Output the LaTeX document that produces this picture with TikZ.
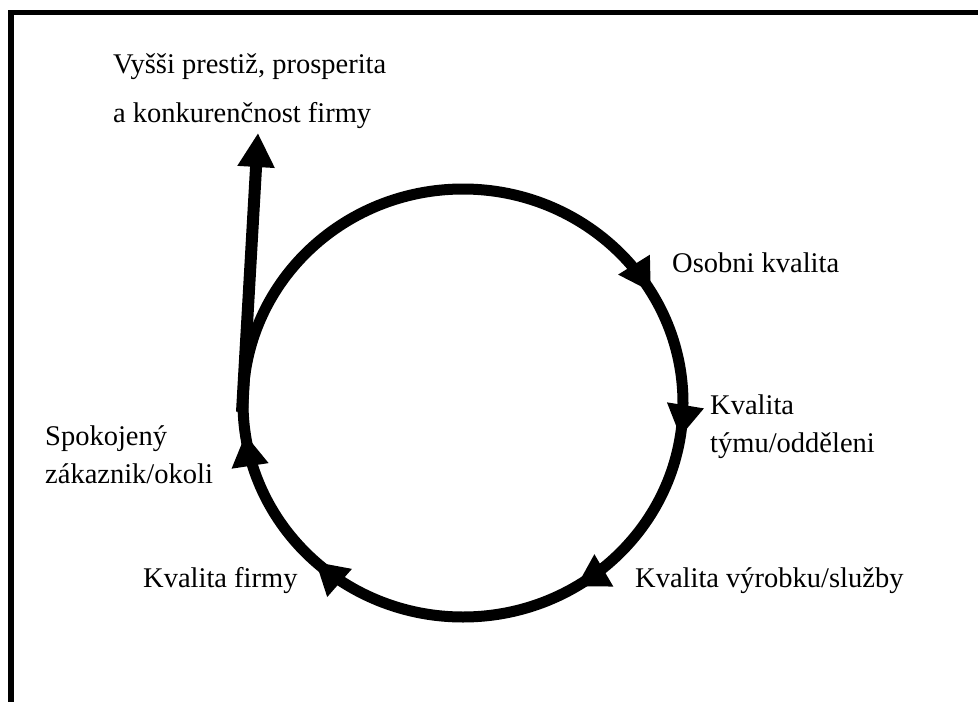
\documentclass[tikz,border=0pt]{standalone}
\usepackage{fontspec}
\setmainfont{Liberation Serif}
\usetikzlibrary{arrows.meta,decorations.markings}

\begin{document}
\begin{tikzpicture}[x=1pt,y=-1pt,
  lbl/.style={anchor=base west,inner sep=0pt,align=left,
    font=\fontsize{28.5}{37.5}\selectfont},
  cyc/.style={line width=11pt},
  tri/.tip={Triangle[width=35pt,length=32pt]},
  frame/.style={line width=5.5pt,line join=miter}]
\useasboundingbox (0,0) rectangle (978,702);
\fill[white] (0,0) rectangle (978,702);

% open frame (left and top edges)
\draw[frame] (11,702) -- (11,12.5) -- (978,12.5);

% the quality cycle
\coordinate (c) at (463,403);
\draw[cyc, postaction={decorate}, decoration={markings,
    mark=at position 0.025 with {\arrow{tri}},
    mark=at position 0.163 with {\arrow{tri}},
    mark=at position 0.368 with {\arrow{tri}},
    mark=at position 0.477 with {\arrow{tri}},
    mark=at position 0.914 with {\arrow{tri}}}]
  (c) ++(220,0) arc[start angle=0,end angle=360,x radius=220,y radius=214];

% exit arrow towards the firm's prestige
\coordinate (junc) at (242,412);
\coordinate (up) at (258,133);
\draw[line width=12pt,-{Triangle[width=35pt,length=34pt]}] (junc) -- (up);

% labels (multi-line nodes sit on the baseline of their last line)
\node[lbl,font=\fontsize{28.5}{49}\selectfont] (prestige) at (113,122)
  {Vyšši prestiž, prosperita\\a konkurenčnost firmy};
\node[lbl] (osobni) at (672,272) {Osobni kvalita};
\node[lbl] (tym) at (710,452) {Kvalita\\týmu/odděleni};
\node[lbl] (vyrobek) at (635,587) {Kvalita výrobku/služby};
\node[lbl] (firma) at (143,587) {Kvalita firmy};
\node[lbl] (zakaznik) at (45,483) {Spokojený\\zákaznik/okoli};
\end{tikzpicture}
\end{document}
